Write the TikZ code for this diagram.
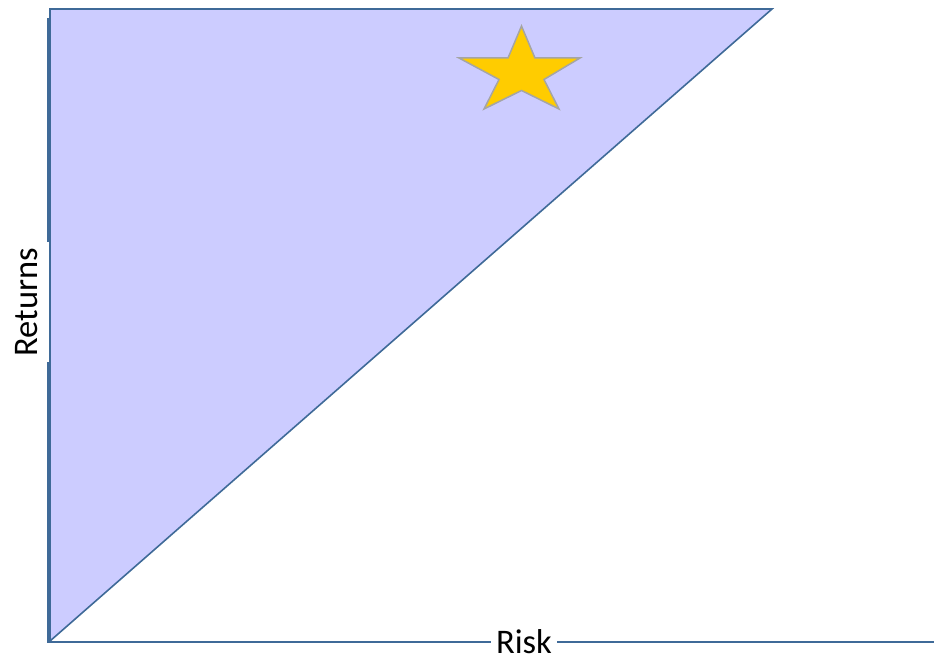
\documentclass[tikz,border=0pt]{standalone}
\usepackage{fontspec}
\setmainfont{Carlito}
\definecolor{fillblue}{HTML}{CCCCFF}
\definecolor{edgeblue}{HTML}{3F6A98}
\definecolor{stargold}{HTML}{FFCC00}
\definecolor{stargray}{HTML}{A5A5A5}
\begin{document}
\begin{tikzpicture}[x=1pt,y=-1pt,
  axis/.style={draw=edgeblue,line width=2.2pt},
  lbl/.style={font=\fontsize{34.5}{38}\selectfont,inner xsep=5pt,inner ysep=0.5pt,text=black}]
\useasboundingbox (0,0) rectangle (936,658);
% triangle region
\coordinate (tl) at (50,9);
\coordinate (tr) at (772,9);
\coordinate (bl) at (50,641);
\fill[fillblue] (tl) -- (tr) -- (bl) -- cycle;
\draw[edgeblue,line width=1.6pt,line join=miter] (bl) -- (tl) -- (tr) -- cycle;
% star
\fill[stargold,draw=stargray,line width=1.5pt,line join=miter]
  (521.5,26) -- (535,58) -- (580,58) -- (544,79.5) -- (559,109) -- (521.5,90.5)
  -- (484,109) -- (499,79.5) -- (459,58) -- (508,58) -- cycle;
% labels
\node[lbl,anchor=base] (risk) at (524,653) {Risk};
\node[lbl,rotate=90,inner xsep=6pt] (ret) at (27,302) {Returns};
% axes
\coordinate (ytop) at (48,18);
\coordinate (origin) at (48,642);
\coordinate (xstart) at (47,642);
\coordinate (xend) at (934,642);
\draw[axis] (ytop) -- (ytop |- ret.east);
\draw[axis] (origin |- ret.west) -- (origin);
\draw[axis] (xstart) -- (xstart -| risk.west);
\draw[axis] (xend -| risk.east) -- (xend);
\end{tikzpicture}
\end{document}
